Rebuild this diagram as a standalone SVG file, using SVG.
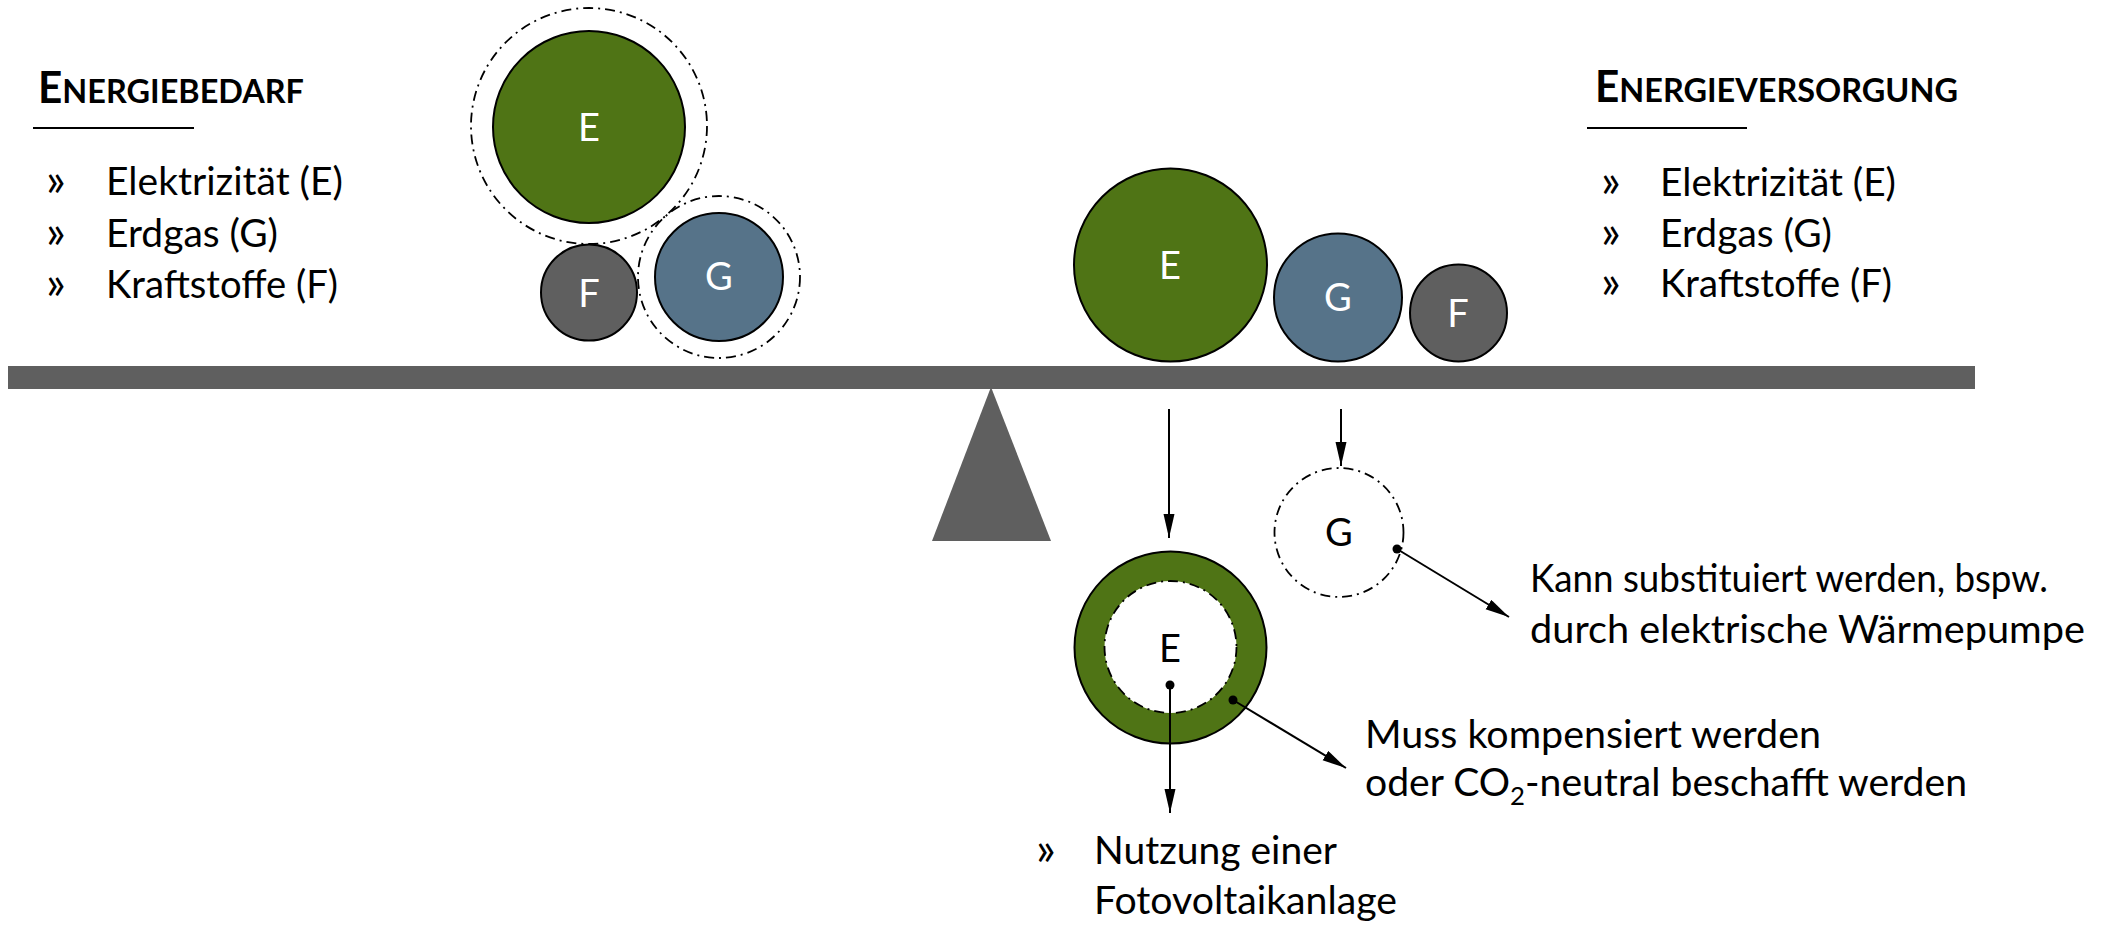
<svg xmlns="http://www.w3.org/2000/svg" width="2113" height="929" viewBox="0 0 2113 929">
<style>
text{font-family:Lato,"Liberation Sans",sans-serif;fill:#000}
.t{font-size:38px}
.b{font-size:46px}
.h{font-weight:bold}
.lbl{font-size:38px;text-anchor:middle}
.w{fill:#fff}
.sc{stroke:#000;stroke-width:2}
.green{fill:#4f7415}
.blue{fill:#567389}
.grey{fill:#5f5f5f}
.dd{fill:none;stroke:#000;stroke-width:1.8;stroke-dasharray:10 5 2 5}
.ln{stroke:#000;stroke-width:2;fill:none}
</style>
<defs>
<marker id="ah" markerUnits="userSpaceOnUse" markerWidth="26" markerHeight="12" refX="24" refY="5.5" orient="auto">
<path d="M0,0 L24,5.5 L0,11 z" fill="#000"/>
</marker>
</defs>
<rect width="2113" height="929" fill="#fff"/>

<g id="legend-left">
<text class="h" x="38" y="103" textLength="266" lengthAdjust="spacingAndGlyphs"><tspan font-size="43">E</tspan><tspan font-size="33">NERGIEBEDARF</tspan></text>
<line x1="33" y1="128" x2="194" y2="128" stroke="#000" stroke-width="2"/>
<text class="b" x="46" y="196">»</text>
<text class="b" x="46" y="248">»</text>
<text class="b" x="46" y="299">»</text>
<text class="t" x="106" y="195" textLength="237" lengthAdjust="spacingAndGlyphs">Elektrizität (E)</text>
<text class="t" x="106" y="247" textLength="172" lengthAdjust="spacingAndGlyphs">Erdgas (G)</text>
<text class="t" x="106" y="298" textLength="232" lengthAdjust="spacingAndGlyphs">Kraftstoffe (F)</text>
</g>

<g id="legend-right">
<text class="h" x="1595" y="102" textLength="363" lengthAdjust="spacingAndGlyphs"><tspan font-size="43">E</tspan><tspan font-size="33">NERGIEVERSORGUNG</tspan></text>
<line x1="1587" y1="128" x2="1747" y2="128" stroke="#000" stroke-width="2"/>
<text class="b" x="1601" y="197">»</text>
<text class="b" x="1601" y="248">»</text>
<text class="b" x="1601" y="298">»</text>
<text class="t" x="1660" y="196" textLength="236" lengthAdjust="spacingAndGlyphs">Elektrizität (E)</text>
<text class="t" x="1660" y="247" textLength="172" lengthAdjust="spacingAndGlyphs">Erdgas (G)</text>
<text class="t" x="1660" y="297" textLength="232" lengthAdjust="spacingAndGlyphs">Kraftstoffe (F)</text>
</g>

<g id="beam">
<rect x="8" y="366" width="1967" height="23" class="grey"/>
<polygon points="991,387 932,541 1051,541" class="grey"/>
</g>

<g id="demand-E">
<circle cx="589" cy="126" r="118" class="dd"/>
<circle cx="589" cy="127" r="96" class="green sc"/>
<text class="lbl w" x="589" y="141">E</text>
</g>
<g id="demand-F">
<circle cx="589" cy="292.5" r="48" class="grey sc"/>
<text class="lbl w" x="589" y="307">F</text>
</g>
<g id="demand-G">
<circle cx="719" cy="277" r="81" class="dd"/>
<circle cx="719" cy="277" r="64" class="blue sc"/>
<text class="lbl w" x="719" y="290">G</text>
</g>

<g id="supply-E">
<circle cx="1170.5" cy="265" r="96.5" class="green sc"/>
<text class="lbl w" x="1170" y="279">E</text>
</g>
<g id="supply-G">
<circle cx="1338" cy="297.5" r="64" class="blue sc"/>
<text class="lbl w" x="1338" y="311">G</text>
</g>
<g id="supply-F">
<circle cx="1458.5" cy="313" r="48.5" class="grey sc"/>
<text class="lbl w" x="1458" y="327">F</text>
</g>

<g id="ring-E">
<circle cx="1170.5" cy="647.5" r="96" class="green sc"/>
<circle cx="1170.5" cy="647" r="66" fill="#fff"/>
<circle cx="1170.5" cy="647" r="66" class="dd"/>
<text class="lbl" x="1170" y="662">E</text>
</g>

<g id="sub-G">
<circle cx="1339" cy="532.5" r="64.5" class="dd"/>
<text class="lbl" x="1339" y="546">G</text>
</g>

<g id="connectors">
<line x1="1169" y1="409" x2="1169" y2="538" class="ln" marker-end="url(#ah)"/>
<line x1="1341" y1="409" x2="1341" y2="466" class="ln" marker-end="url(#ah)"/>
<circle cx="1170" cy="685" r="4.5" fill="#000"/>
<line x1="1170" y1="685" x2="1170" y2="813" class="ln" marker-end="url(#ah)"/>
<circle cx="1233" cy="700" r="4.5" fill="#000"/>
<line x1="1233" y1="700" x2="1346" y2="768" class="ln" marker-end="url(#ah)"/>
<circle cx="1397" cy="549" r="4.5" fill="#000"/>
<line x1="1397" y1="549" x2="1509" y2="617" class="ln" marker-end="url(#ah)"/>
</g>

<g id="note-substitute">
<text class="t" x="1530" y="592" textLength="518" lengthAdjust="spacingAndGlyphs">Kann substituiert werden, bspw.</text>
<text class="t" x="1530" y="643" textLength="555" lengthAdjust="spacingAndGlyphs">durch elektrische Wärmepumpe</text>
</g>

<g id="note-compensate">
<text class="t" x="1365" y="748" textLength="456" lengthAdjust="spacingAndGlyphs">Muss kompensiert werden</text>
<text class="t" x="1365" y="796" textLength="602" lengthAdjust="spacingAndGlyphs">oder CO<tspan font-size="25" dy="9">2</tspan><tspan dy="-9">-neutral beschafft werden</tspan></text>
</g>

<g id="note-pv">
<text class="b" x="1036" y="865">»</text>
<text class="t" x="1094" y="864" textLength="243" lengthAdjust="spacingAndGlyphs">Nutzung einer</text>
<text class="t" x="1094" y="914" textLength="303" lengthAdjust="spacingAndGlyphs">Fotovoltaikanlage</text>
</g>
</svg>
